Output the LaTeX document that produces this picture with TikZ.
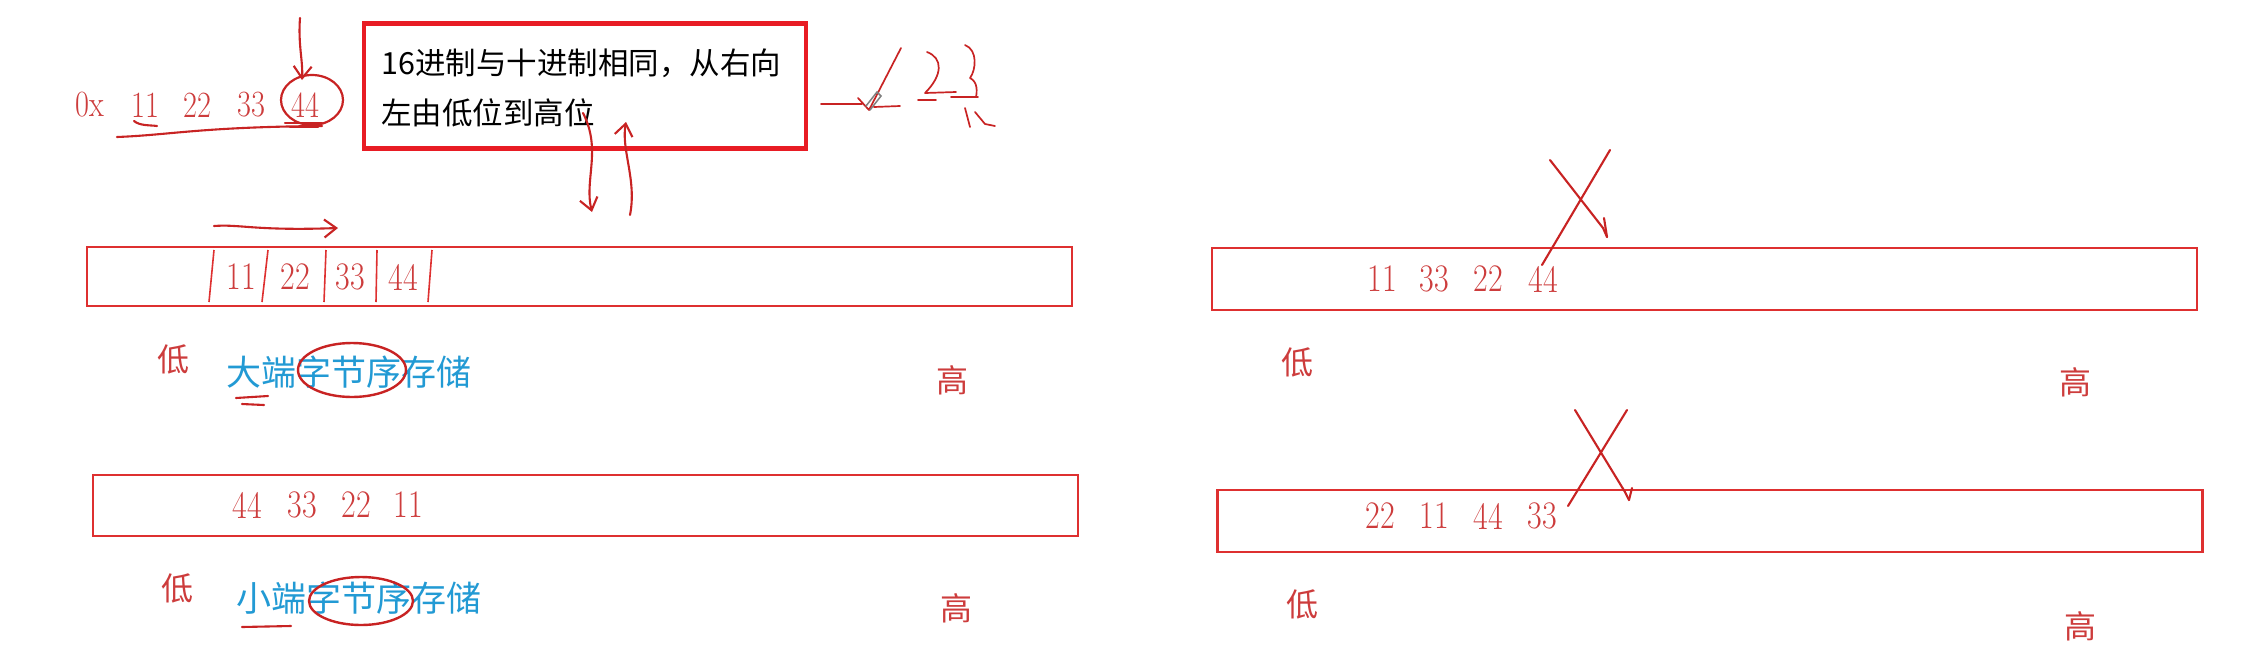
\documentclass[tikz,border=0pt]{standalone}
\usepackage{graphicx}
\usepackage{fontspec}
\newfontfamily\cjk{Noto Sans CJK SC}
\usetikzlibrary{arrows.meta,shapes.geometric}
\definecolor{boxred}{RGB}{222,48,48}
\definecolor{framered}{RGB}{232,28,36}
\definecolor{digred}{RGB}{205,60,60}
\definecolor{inkred}{RGB}{200,35,35}
\definecolor{cjkblue}{RGB}{34,154,212}
\newcommand\narrowdig[1]{\scalebox{0.82}[1]{#1}}
\tikzset{
 membox/.style={draw=boxred, line width=2.5pt, inner sep=0pt, minimum width=985pt},
 dig/.style={text=digred, font=\fontsize{39}{39}\selectfont, inner sep=0pt},
 hexdig/.style={text=digred, font=\fontsize{37}{37}\selectfont, inner sep=0pt},
 lohi/.style={text=digred, font=\cjk\fontsize{32}{32}\selectfont, inner sep=0pt},
 bluelbl/.style={text=cjkblue, font=\cjk\fontsize{35}{35}\selectfont, inner sep=0pt, anchor=west},
 ink/.style={draw=inkred, line width=2.1pt, line cap=round, line join=round},
 thinink/.style={ink, line width=1.7pt},
 hand/.style={ink, -{Straight Barb[length=12pt,width=18pt]}},
 loopmark/.style={draw=inkred, line width=2.4pt, ellipse, inner sep=0pt},
 sepline/.style={draw=boxred, line width=1.6pt},
 note/.style={text=black, font=\cjk\fontsize{30.5}{30.5}\selectfont, inner sep=0pt, anchor=west},
}
\begin{document}
\begin{tikzpicture}[x=1pt,y=-1pt]
\useasboundingbox (0,0) rectangle (2251,670);
\fill[white] (0,0) rectangle (2251,670);

% explanatory frame
\node[draw=framered, line width=4.5pt, minimum width=442pt, minimum height=125pt, inner sep=0pt] (frame) at (585,86) {};
\node[note] (n1) at (381,63) {16进制与十进制相同，从右向};
\node[note] (n2) at (381,113) {左由低位到高位};

% hex number
\node[hexdig] (h0) at (90,105) {\narrowdig{0x}};
\node[hexdig] (h1) at (145,105) {\narrowdig{11}};
\node[hexdig] (h2) at (197,105) {\narrowdig{22}};
\node[hexdig] (h3) at (251,105) {\narrowdig{33}};
\node[hexdig] (h4) at (305,105) {\narrowdig{44}};
\node[loopmark, line width=2.2pt, minimum width=62pt, minimum height=50pt] (c44) at (312,100) {};
\coordinate (a0s) at (300,18);
\coordinate (a0e) at (302,80);
\draw[hand] (a0s) .. controls (298,45) and (303,60) .. (a0e);
\draw[ink] (134,121) .. controls (140,126) and (150,125) .. (157,126);
\draw[ink] (117,137) .. controls (170,135) and (200,127) .. (322,126);
\draw[ink] (285,123) -- (322,123);
\draw[ink] (290,127) -- (318,127);

% scribbles right of frame
\draw[thinink] (821,104) -- (862,104);
\draw[thinink] (858,98) -- (869,110) -- (901,48);
\draw[draw=gray, line width=1.5pt, line cap=round] (866,106) -- (877,92) -- (881,96) -- (870,110);
\draw[thinink] (874,107) -- (900,106);
\draw[thinink] (927,52) .. controls (943,58) and (943,75) .. (925,93) -- (956,92);
\draw[thinink] (965,45) .. controls (978,50) and (976,70) .. (970,78) .. controls (978,82) and (977,92) .. (976,97);
\draw[thinink] (918,100) -- (936,100);
\draw[thinink] (951,97) -- (978,97);
\draw[thinink] (965,108) -- (970,127);
\draw[thinink] (975,112) -- (985,124) -- (995,126);

% wavy arrows under the frame
\coordinate (wa1) at (583,113);
\coordinate (wa2) at (592,212);
\coordinate (wb1) at (630,215);
\coordinate (wb2) at (626,122);
\draw[hand] (wa1) .. controls (602,150) and (584,180) .. (wa2);
\draw[hand] (wb1) .. controls (637,180) and (621,150) .. (wb2);

% big endian box
\coordinate (ar1) at (214,226);
\coordinate (ar2) at (338,228);
\draw[hand] (ar1) .. controls (240,224) and (255,231) .. (ar2);
\node[membox, minimum height=59pt] (m1) at (579.5,276.5) {};
\draw[sepline] (214,250) -- (209,302);
\draw[sepline] (268,250) -- (262,302);
\draw[sepline] (326,250) -- (324,302);
\draw[sepline] (377,250) -- (376,302);
\draw[sepline] (432,250) -- (428,302);
\node[dig] (b1) at (241,277) {\narrowdig{11}};
\node[dig] (b2) at (295,277) {\narrowdig{22}};
\node[dig] (b3) at (350,277) {\narrowdig{33}};
\node[dig] (b4) at (403,277) {\narrowdig{44}};
\node[lohi] (lo1) at (173,359) {低};
\node[lohi] (hi1) at (952,380) {高};
\node[bluelbl] (big) at (226,372) {大端字节序存储};
\node[loopmark, minimum width=108pt, minimum height=54pt] (e1) at (352,370) {};
\draw[ink] (236,398) -- (268,396);
\draw[ink] (242,404) -- (264,405);

% little endian box
\node[membox, minimum height=61pt] (m2) at (585.5,505.5) {};
\node[dig] (l1) at (247,505) {\narrowdig{44}};
\node[dig] (l2) at (302,505) {\narrowdig{33}};
\node[dig] (l3) at (356,505) {\narrowdig{22}};
\node[dig] (l4) at (408,505) {\narrowdig{11}};
\node[lohi] (lo2) at (177,588) {低};
\node[lohi] (hi2) at (956,608) {高};
\node[bluelbl] (little) at (236,598) {小端字节序存储};
\node[loopmark, minimum width=104pt, minimum height=48pt] (e2) at (361,601) {};
\draw[ink] (242,627) -- (291,626);

% right top box (crossed out)
\node[membox, minimum height=62pt] (m3) at (1704.5,279) {};
\node[dig] (r1) at (1382,279) {\narrowdig{11}};
\node[dig] (r2) at (1434,279) {\narrowdig{33}};
\node[dig] (r3) at (1488,279) {\narrowdig{22}};
\node[dig] (r4) at (1543,279) {\narrowdig{44}};
\node[lohi] (lo3) at (1297,362) {低};
\node[lohi] (hi3) at (2075,382) {高};
\draw[ink] (1550,160) -- (1603,228) -- (1607,237);
\draw[ink] (1604,218) -- (1607,237);
\draw[ink] (1610,150) -- (1542,265);

% right bottom box (crossed out)
\node[membox, minimum height=62pt] (m4) at (1710,521) {};
\node[dig] (s1) at (1380,516) {\narrowdig{22}};
\node[dig] (s2) at (1434,516) {\narrowdig{11}};
\node[dig] (s3) at (1488,516) {\narrowdig{44}};
\node[dig] (s4) at (1542,516) {\narrowdig{33}};
\node[lohi] (lo4) at (1302,604) {低};
\node[lohi] (hi4) at (2080,626) {高};
\draw[ink] (1575,410) -- (1625,492) -- (1629,500);
\draw[ink] (1632,488) -- (1629,500);
\draw[ink] (1627,410) -- (1568,506);
\end{tikzpicture}
\end{document}
